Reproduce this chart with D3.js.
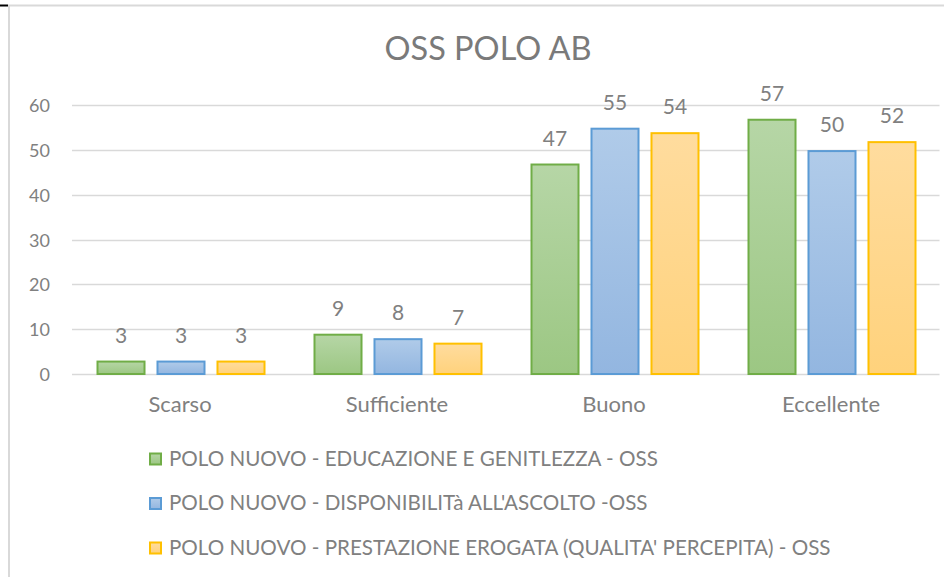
<!DOCTYPE html>
<html><head><meta charset="utf-8">
<script src="https://cdn.jsdelivr.net/npm/d3@7"></script>
<style>body{margin:0;background:#fff}svg{display:block}text{font-family:Lato,"Open Sans",sans-serif}</style>
</head><body><svg id="c" width="944" height="577"></svg>
<script>
const title = "OSS POLO AB";
const categories = ["Scarso","Sufficiente","Buono","Eccellente"];
const seriesNames = [
  "POLO NUOVO - EDUCAZIONE E GENITLEZZA - OSS",
  "POLO NUOVO - DISPONIBILITà ALL'ASCOLTO -OSS",
  "POLO NUOVO - PRESTAZIONE EROGATA (QUALITA' PERCEPITA) - OSS"
];
const educazione = [3, 9, 47, 57];
const disponibilita = [3, 8, 55, 50];
const prestazione = [3, 7, 54, 52];
const yTicks = [0,10,20,30,40,50,60];

const series = [educazione, disponibilita, prestazione];
const strokes = ["#70ad47","#5b9bd5","#ffc000"];
const gradTop = ["#b6d6a6","#b0cbe9","#ffdc9e"];
const gradBot = ["#9cc783","#93b6e0","#ffd27c"];

const svg = d3.select("#c");
const defs = svg.append("defs");
series.forEach((s,i)=>{
  const g = defs.append("linearGradient").attr("id","g"+i).attr("x1",0).attr("y1",0).attr("x2",0).attr("y2",1);
  g.append("stop").attr("offset","0%").attr("stop-color",gradTop[i]);
  g.append("stop").attr("offset","100%").attr("stop-color",gradBot[i]);
});

// frame
svg.append("line").attr("x1",8).attr("x2",944).attr("y1",5.5).attr("y2",5.5).attr("stroke","#d9d9d9").attr("stroke-width",2);
svg.append("line").attr("x1",9).attr("x2",9).attr("y1",5).attr("y2",577).attr("stroke","#d9d9d9").attr("stroke-width",2);
svg.append("line").attr("x1",0).attr("x2",8).attr("y1",5.5).attr("y2",5.5).attr("stroke","#000").attr("stroke-width",2);

const x = d3.scaleBand().domain(categories).range([71.5,939.5]);
const y = d3.scaleLinear().domain([0,60]).range([374,105.3]);
const inner = d3.scaleBand().domain(d3.range(3)).range([25,x.bandwidth()-23]).paddingInner(0.183);

svg.append("text").attr("x",488).attr("y",60).attr("text-anchor","middle")
  .attr("font-size",32.5).attr("fill","#7a7a7a").text(title);

// grid
svg.append("g").selectAll("line").data(yTicks).join("line")
  .attr("x1",72).attr("x2",939.5)
  .attr("y1",d=>Math.round(y(d))+0.5).attr("y2",d=>Math.round(y(d))+0.5)
  .attr("stroke","#d9d9d9").attr("stroke-width",1.3);

const yAxis = svg.append("g").attr("transform","translate(50,0)")
  .call(d3.axisLeft(y).tickValues(yTicks).tickSize(0).tickPadding(0));
yAxis.select(".domain").remove();
yAxis.selectAll("text").attr("font-size",18).attr("fill","#808080").attr("font-family","Lato").attr("dy","0.36em");

const xAxis = svg.append("g").attr("transform","translate(0,374)")
  .call(d3.axisBottom(x).tickSize(0).tickPadding(0));
xAxis.select(".domain").remove();
xAxis.selectAll("text").attr("font-size",22).attr("fill","#808080").attr("font-family","Lato").attr("dy",0).attr("y",37.5);

series.forEach((s,i)=>{
  const g = svg.append("g");
  g.selectAll("rect").data(s).join("rect")
    .attr("x",(d,j)=>x(categories[j])+inner(i)+1)
    .attr("y",d=>y(d)+1)
    .attr("width",inner.bandwidth()-2)
    .attr("height",d=>y(0)-y(d)-1)
    .attr("fill","url(#g"+i+")").attr("stroke",strokes[i]).attr("stroke-width",2);
  g.selectAll("text").data(s).join("text")
    .attr("x",(d,j)=>x(categories[j])+inner(i)+inner.bandwidth()/2)
    .attr("y",d=>y(d)-18)
    .attr("text-anchor","middle").attr("font-size",21).attr("fill","#808080").text(d=>d);
});

// legend
const legY = [459, 503.5, 548];
const leg = svg.append("g");
seriesNames.forEach((n,i)=>{
  leg.append("rect").attr("x",150).attr("y",legY[i]-5.5).attr("width",11).attr("height",11)
    .attr("fill","url(#g"+i+")").attr("stroke",strokes[i]).attr("stroke-width",2);
  leg.append("text").attr("x",169).attr("y",legY[i]+6.5).attr("font-size",20.6).attr("fill","#808080").text(n);
});
</script></body></html>
